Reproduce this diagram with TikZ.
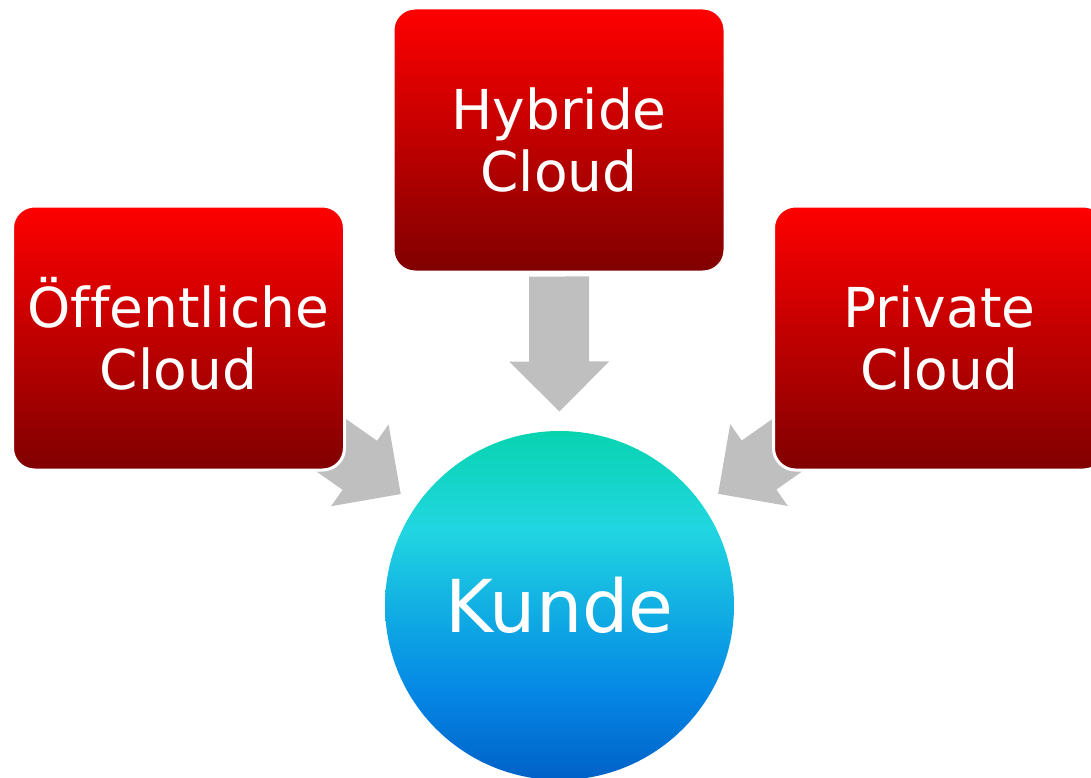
\documentclass[tikz,border=0pt]{standalone}
\usepackage{fontspec}
\setmainfont{DejaVu Sans}[Ligatures=NoCommon]
\usetikzlibrary{calc,backgrounds}

\definecolor{boxrot}{RGB}{255,0,0}
\definecolor{boxdunkel}{RGB}{128,0,0}
\definecolor{pfeilgrau}{RGB}{191,191,191}
\pgfdeclareverticalshading{kundeshade}{100bp}{rgb(0bp)=(0,0.38,0.78); rgb(25bp)=(0,0.38,0.78); rgb(37.5bp)=(0.02,0.53,0.9); rgb(50bp)=(0.07,0.69,0.89); rgb(61bp)=(0.13,0.84,0.88); rgb(75bp)=(0.03,0.83,0.69); rgb(100bp)=(0.03,0.83,0.69)}

\begin{document}
\begin{tikzpicture}[x=1pt,y=-1pt,
	wolke/.style={rectangle, rounded corners=22pt, draw=white, line width=3pt, top color=boxrot, bottom color=boxdunkel, minimum width=332pt, minimum height=264pt, inner sep=0pt, text=white, align=center, font=\fontsize{55}{62}\selectfont},
	kreis/.style={circle, shading=kundeshade, minimum size=349pt, inner sep=0pt, text=white, font=\fontsize{73}{80}\selectfont},
	pfeil/.style={fill=pfeilgrau}]
		\clip (0,0) rectangle (1091,778);
		% Kunde in der Mitte, Cloud-Arten ringsum
		\node [kreis] (kunde) at (559.5,605.5) {Kunde};
		\node [wolke] (hyb) at (559,140) {Hybride\\Cloud};
		\node [wolke] (oeff) at (178.5,338) {\smash{Ö}ffentliche\\Cloud};
		\node [wolke] (priv) at (939.5,338) {Private\\Cloud};
		% Blockpfeile hinter den Kaesten
		\begin{scope}[on background layer]
		\foreach \b in {oeff,hyb,priv}{
			\coordinate (kopf) at ($(kunde)!244pt!(\b)$);
			\coordinate (schaft) at ($(kunde)!329pt!(\b)$);
			\fill [pfeil] ($(kunde)!194pt!(\b)$) -- ($(kopf)!50pt!90:(\b)$) -- ($(kopf)!30pt!90:(\b)$)
				-- ($(schaft)!30pt!90:(\b)$) -- ($(schaft)!30pt!-90:(\b)$)
				-- ($(kopf)!30pt!-90:(\b)$) -- ($(kopf)!50pt!-90:(\b)$) -- cycle;
		}
		\end{scope}
	\end{tikzpicture}
\end{document}
